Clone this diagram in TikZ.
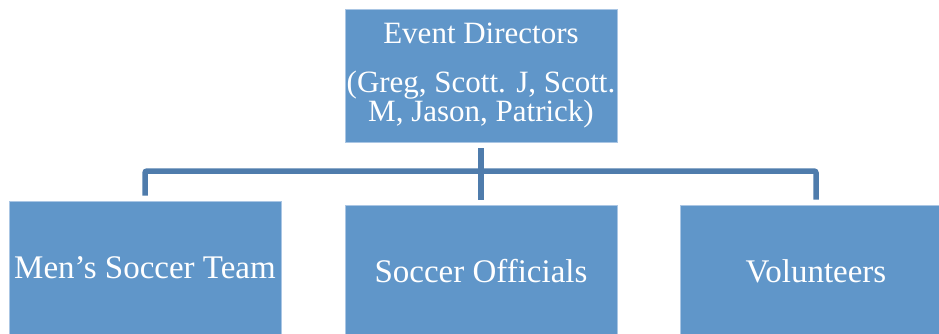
\documentclass[tikz,border=0pt]{standalone}
\usepackage{fontspec}
\setmainfont{Liberation Serif}
\usepackage{xcolor}
\definecolor{boxblue}{RGB}{96,150,201}
\definecolor{boxedge}{RGB}{170,198,228}
\definecolor{linkblue}{RGB}{79,124,172}

\begin{document}
\begin{tikzpicture}[x=1pt,y=-1pt,
  unit/.style={rectangle, fill=boxblue, draw=boxedge, line width=0.8pt, text=white,
    minimum width=272pt, minimum height=133pt, inner sep=0pt, align=center,
    font=\fontsize{33}{29}\selectfont},
  link/.style={draw=linkblue, line width=5.5pt, rounded corners=2pt}]
\useasboundingbox (0,0) rectangle (939,333);
\clip (0,0) rectangle (939,333);
% boxes
\node[unit, font=\fontsize{31}{29}\selectfont] (dir) at (481,75.5)
  {Event Directors\\[20pt](Greg, Scott. J, Scott.\\M, Jason, Patrick)};
\node[unit] (men) at (145,267.5) {Men’s Soccer Team};
\node[unit] (off) at (481,271.5) {Soccer Officials};
\node[unit] (vol) at (816,271.5) {Volunteers};
% connectors
\coordinate (bus) at (481,171);
\draw[link] ([yshift=-6pt]dir.south) -- ([yshift=5pt]off.north);
\draw[link] ([yshift=5pt]men.north) |- (bus) -| ([yshift=5pt]vol.north);
\end{tikzpicture}
\end{document}
